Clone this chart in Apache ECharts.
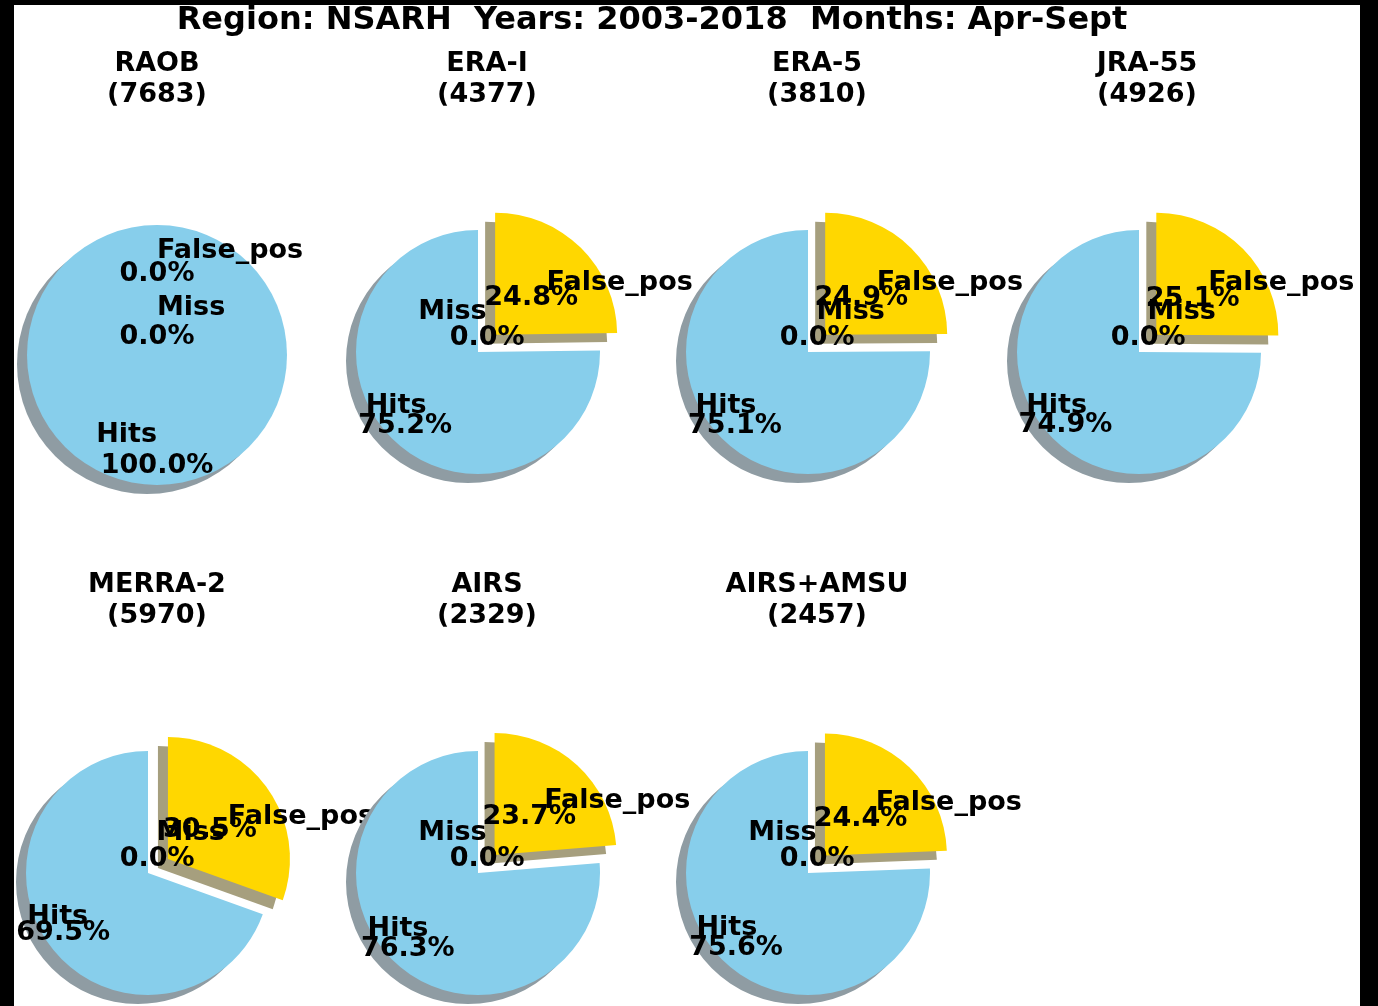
<!DOCTYPE html>
<html>
<head>
<meta charset="utf-8">
<script src="https://cdn.jsdelivr.net/npm/echarts@6/dist/echarts.min.js"></script>
<style>
  html, body { margin: 0; padding: 0; background: #000; }
  #chart { width: 1378px; height: 1006px; }
</style>
</head>
<body>
<div id="chart"></div>
<script>
// Hit / miss / false-positive shares per dataset (percent of cases)
const datasets = ['RAOB', 'ERA-I', 'ERA-5', 'JRA-55', 'MERRA-2', 'AIRS', 'AIRS+AMSU'];
const caseCounts = [7683, 4377, 3810, 4926, 5970, 2329, 2457];
const hits = [100.0, 75.2, 75.1, 74.9, 69.5, 76.3, 75.6];
const misses = [0.0, 0.0, 0.0, 0.0, 0.0, 0.0, 0.0];
const falsePos = [0.0, 24.8, 24.9, 25.1, 30.5, 23.7, 24.4];
const sliceNames = ['Hits', 'Miss', 'False_pos'];
const mainTitle = 'Region: NSARH  Years: 2003-2018  Months: Apr-Sept';

// Layout of the 4 x 2 panel grid
const colX = [148, 478, 808, 1139];
const rowY = [352, 873];
const titleX = [157, 487, 817, 1147];
const titleY = [64, 585];
const missAlign = ['left', 'right', 'left', 'left', 'left', 'right', 'right'];
const FONT = 'bold 27px "DejaVu Sans"';
const SHADOW_DX = -10, SHADOW_DY = 9;
const EXPLODE = 0.2;

const sliceColors = ['#87CEEB', '#D2B48C', '#FFD700'];
const shadowColors = ['#8f9ca3', '#a59e80', '#a69f7e'];

const series = [];
const graphics = [];
const rad = Math.PI / 180;

function label(x, y, s, align, z) {
  return {
    type: 'text', z: z, silent: true,
    style: { text: s, x: x, y: y, font: FONT, fill: '#000', textAlign: align, textVerticalAlign: 'middle' }
  };
}

datasets.forEach(function (name, i) {
  const col = i % 4, row = Math.floor(i / 4);
  const exploded = falsePos[i] > 0;
  let cx = colX[col], cy = rowY[row], r = 122;
  if (!exploded) { cx = 157; cy = 355; r = 130; }
  const vals = [hits[i], misses[i], falsePos[i]];
  const total = vals[0] + vals[1] + vals[2];
  const zBase = 10 * i;

  function pieData(colors) {
    return vals.map(function (v, k) {
      return {
        name: sliceNames[k], value: v,
        selected: k === 2,
        itemStyle: { color: colors[k] },
        select: { itemStyle: { color: colors[k] } }
      };
    });
  }
  const common = {
    type: 'pie', radius: r, startAngle: 90, clockwise: false,
    selectedMode: 'multiple', selectedOffset: EXPLODE * r,
    silent: true, animation: false, avoidLabelOverlap: false,
    label: { show: false }, labelLine: { show: false },
    emphasis: { disabled: true }, minAngle: 0, stillShowZeroSum: true
  };
  series.push(Object.assign({}, common, {
    center: [cx + SHADOW_DX, cy + SHADOW_DY], z: zBase + 1, data: pieData(shadowColors)
  }));
  series.push(Object.assign({}, common, {
    center: [cx, cy], z: zBase + 2, data: pieData(sliceColors)
  }));

  // panel titles
  graphics.push(label(titleX[col], titleY[row], name, 'center', zBase + 3));
  graphics.push(label(titleX[col], titleY[row] + 31, '(' + caseCounts[i] + ')', 'center', zBase + 3));

  const pct = function (v) { return (v / total * 100).toFixed(1) + '%'; };

  // Hits: name at 0.6 r, percentage at 0.85 r along the slice bisector
  const th = (90 + 180 * vals[0] / total) * rad;
  const ch = Math.cos(th), sh = Math.sin(th);
  graphics.push(label(cx + 0.6 * r * ch, cy - 0.6 * r * sh + 2, 'Hits', ch <= 1e-9 ? 'right' : 'left', zBase + 3));
  graphics.push(label(cx + 0.85 * r * ch, cy - 0.85 * r * sh, pct(vals[0]), 'center', zBase + 3));

  // False_pos: measured from the exploded slice centre
  const start = 90 + 360 * (vals[0] + vals[1]) / total;
  const tf = ((start + 450) / 2) * rad;
  const cf = Math.cos(tf), sf = Math.sin(tf);
  const ex = cx + EXPLODE * r * cf, ey = cy - EXPLODE * r * sf;
  graphics.push(label(ex + 0.6 * r * cf, ey - 0.6 * r * sf, 'False_pos', cf >= -1e-9 ? 'left' : 'right', zBase + 3));
  graphics.push(label(ex + 0.42 * r * cf, ey - 0.42 * r * sf, pct(vals[2]), 'center', zBase + 3));

  // Miss
  if (exploded) {
    graphics.push(label(cx + 0.07 * r, cy - 0.33 * r, 'Miss', missAlign[i], zBase + 3));
    graphics.push(label(cx + 0.075 * r, cy - 0.115 * r, pct(vals[1]), 'center', zBase + 3));
  } else {
    graphics.push(label(cx, cy - 0.36 * r, 'Miss', missAlign[i], zBase + 3));
    graphics.push(label(cx, cy - 0.14 * r, pct(vals[1]), 'center', zBase + 3));
  }
});

// figure title
graphics.push({
  type: 'text', z: 500, silent: true,
  style: { text: mainTitle, x: 652, y: 21, font: 'bold 32px "DejaVu Sans"', fill: '#000', textAlign: 'center', textVerticalAlign: 'middle' }
});
// dark frame around the canvas
graphics.push({ type: 'rect', z: 1000, silent: true, shape: { x: 0, y: 0, width: 14, height: 1006 }, style: { fill: '#000' } });
graphics.push({ type: 'rect', z: 1000, silent: true, shape: { x: 1360, y: 0, width: 18, height: 1006 }, style: { fill: '#000' } });
graphics.push({ type: 'rect', z: 1000, silent: true, shape: { x: 0, y: 0, width: 1378, height: 5 }, style: { fill: '#000' } });

const chart = echarts.init(document.getElementById('chart'), null, { renderer: 'canvas' });
chart.setOption({
  backgroundColor: '#ffffff',
  animation: false,
  series: series,
  graphic: { elements: graphics }
});
</script>
</body>
</html>
